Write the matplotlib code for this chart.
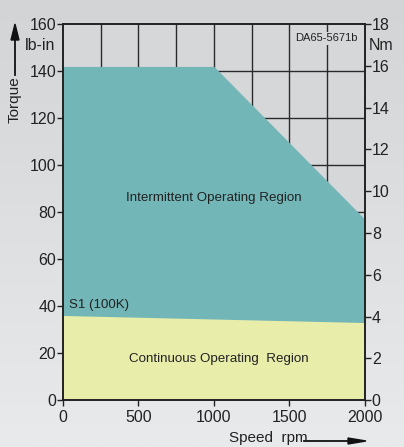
import numpy as np
import matplotlib.pyplot as plt
from matplotlib.colors import LinearSegmentedColormap

plt.rcParams['font.family'] = ['Liberation Sans', 'DejaVu Sans']

# Torque envelope (lb-in) vs speed (rpm)
peak_speed = [0, 1000, 2000]
peak_torque = [142, 142, 77]
cont_speed = [0, 2000]
cont_torque = [36, 33]

x_ticks = [0, 500, 1000, 1500, 2000]
y_ticks = [0, 20, 40, 60, 80, 100, 120, 140, 160]
nm_ticks = [0, 2, 4, 6, 8, 10, 12, 14, 16, 18]

fig = plt.figure(figsize=(4.04, 4.47), dpi=100)

# soft grey background gradient
bg = fig.add_axes([0, 0, 1, 1], zorder=-10)
grad = np.linspace(0, 1, 256).reshape(-1, 1)
cmap = LinearSegmentedColormap.from_list('bg', ['#d3d4d6', '#e9eaec'])
bg.imshow(grad, aspect='auto', cmap=cmap, extent=[0, 1, 0, 1], origin='upper')
bg.axis('off')

ax = fig.add_axes([0.156, 0.105, 0.747, 0.841])
ax.set_facecolor('#d6d7d9')
ax.set_xlim(0, 2000)
ax.set_ylim(0, 160)

# grid
for gx in np.arange(250, 2000, 250):
    ax.axvline(gx, color='#2a2a2a', lw=1.0, zorder=1)
for gy in np.arange(20, 160, 20):
    ax.axhline(gy, color='#2a2a2a', lw=1.0, zorder=1)

ax.fill_between(peak_speed, 0, peak_torque, color='#72b6b8', lw=0, zorder=2)
ax.fill_between(cont_speed, 0, cont_torque, color='#e8eeaa', lw=0, zorder=3)

ax.set_xticks(x_ticks)
ax.set_yticks(y_ticks)
ax.tick_params(direction='out', length=4, width=1, labelsize=11.5, colors='#222222', pad=1)
ax.tick_params(axis='x', pad=3)
for s in ax.spines.values():
    s.set_color('#222222')
    s.set_linewidth(1.2)
    s.set_zorder(5)

ax2 = ax.twinx()
ax2.set_ylim(0, 18)
ax2.set_yticks(nm_ticks)
ax2.tick_params(direction='out', length=4, width=1, labelsize=11.5, colors='#222222', pad=1)
for s in ax2.spines.values():
    s.set_color('#222222')
    s.set_linewidth(1.2)

ax.text(1000, 86, 'Intermittent Operating Region', ha='center', va='center',
        fontsize=9.6, color='#222222', zorder=6)
ax.text(1030, 17.5, 'Continuous Operating  Region', ha='center', va='center',
        fontsize=9.6, color='#222222', zorder=6)
ax.text(40, 40.3, 'S1 (100K)', ha='left', va='center', fontsize=9.5,
        color='#222222', zorder=6)
ax.text(1745, 154, 'DA65-5671b', ha='center', va='center', fontsize=8,
        color='#222222', zorder=6,
        bbox=dict(facecolor='#d6d7d9', edgecolor='none', pad=1))

# unit labels
fig.text(40 / 404, 1 - 46 / 447, 'lb-in', ha='center', va='center', fontsize=11.5, color='#222222')
fig.text(381 / 404, 1 - 45 / 447, 'Nm', ha='center', va='center', fontsize=11.5, color='#222222')

# axis titles with arrows
fig.text(15 / 404, 1 - 100 / 447, 'Torque', rotation=90, ha='center', va='center',
         fontsize=11, color='#222222')
fig.add_artist(plt.Line2D([15 / 404, 15 / 404], [1 - 75 / 447, 1 - 38 / 447],
                          color='#111111', lw=1.3, transform=fig.transFigure))
fig.patches.append(plt.Polygon([[11 / 404, 1 - 40 / 447], [19 / 404, 1 - 40 / 447],
                                [15 / 404, 1 - 24 / 447]], closed=True,
                               color='#111111', transform=fig.transFigure))

fig.text(268 / 404, 1 - 438 / 447, 'Speed  rpm', ha='center', va='center',
         fontsize=11, color='#222222')
fig.add_artist(plt.Line2D([304 / 404, 350 / 404], [1 - 441 / 447, 1 - 441 / 447],
                          color='#111111', lw=1.3, transform=fig.transFigure))
fig.patches.append(plt.Polygon([[348 / 404, 1 - 438 / 447], [348 / 404, 1 - 444 / 447],
                                [366 / 404, 1 - 441 / 447]], closed=True,
                               color='#111111', transform=fig.transFigure))

fig.savefig('out.png', dpi=100)
